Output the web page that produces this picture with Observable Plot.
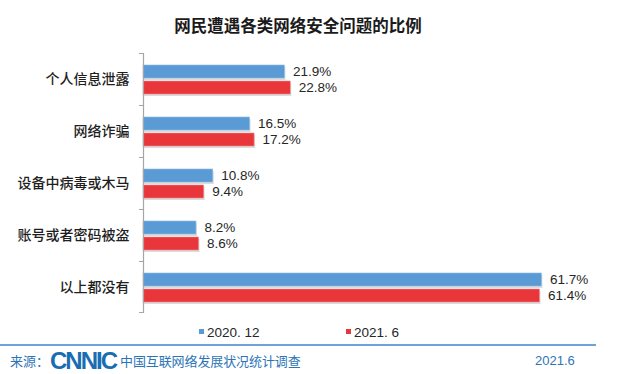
<!DOCTYPE html>
<html>
<head>
<meta charset="utf-8">
<script src="https://cdn.jsdelivr.net/npm/d3@7"></script>
<script src="https://cdn.jsdelivr.net/npm/@observablehq/plot@0.6"></script>
<style>
  body { margin: 0; background: #fff; }
  #wrap { position: relative; width: 640px; height: 374px; overflow: hidden; background: #fff;
          font-family: "Liberation Sans", "Noto Sans CJK SC", sans-serif; }
  #title { position: absolute; left: 0; top: 13px; width: 596px; text-align: center;
           font-family: "Noto Sans CJK SC", sans-serif; font-weight: bold; font-size: 16.5px;
           line-height: 24px; color: #1a1a1a; }
  #chart { position: absolute; left: 0; top: 45px; }
  #chart svg g[aria-label="y-axis tick label"] text { font-size: 14px; font-family: "Noto Sans CJK SC", sans-serif; font-weight: 500; }
  .leg { position: absolute; top: 324px; height: 18px; line-height: 18px; font-size: 13.5px; color: #262626; }
  .sw { display: inline-block; width: 5px; height: 5px; margin-right: 3px; vertical-align: 3px; }
  #rule { position: absolute; left: 0; top: 344px; width: 596px; height: 2px; background: #6fa3d8; }
  .foot { position: absolute; top: 351px; height: 20px; line-height: 20px; color: #2e75b6; font-size: 13px; }
  #logo { font-family: "Liberation Sans", sans-serif; font-weight: 900; font-size: 24px; color: #1a6db3;
          letter-spacing: -2px; top: 350px; height: 22px; line-height: 22px; }
</style>
</head>
<body>
<div id="wrap">
  <div id="title"></div>
  <div id="chart"></div>
  <div class="leg" id="leg0" style="left:199px"></div>
  <div class="leg" id="leg1" style="left:346px"></div>
  <div id="rule"></div>
  <div class="foot" style="left:10px; font-family:'Noto Sans CJK SC',sans-serif">来源：</div>
  <div class="foot" id="logo" style="left:50px">CNNIC</div>
  <div class="foot" style="left:120px; font-family:'Noto Sans CJK SC',sans-serif; letter-spacing:-0.1px">中国互联网络发展状况统计调查</div>
  <div class="foot" style="left:535px">2021.6</div>
</div>
<script>
const title = "网民遭遇各类网络安全问题的比例";
const categories = ["个人信息泄露", "网络诈骗", "设备中病毒或木马", "账号或者密码被盗", "以上都没有"];
const seriesNames = ["2020. 12", "2021. 6"];
const values2020 = [21.9, 16.5, 10.8, 8.2, 61.7];
const values2021 = [22.8, 17.2, 9.4, 8.6, 61.4];
const colors = ["#5b9bd5", "#e8363a"];

document.getElementById("title").textContent = title;
seriesNames.forEach((s, i) => {
  document.getElementById("leg" + i).innerHTML =
    `<span class="sw" style="background:${colors[i]}"></span>${s}`;
});

const rows = categories.map((c, i) => ({category: c, a: values2020[i], b: values2021[i]}));
const lastCat = [categories[categories.length - 1]];

const fmt = v => v.toFixed(1) + "%";

const chart = Plot.plot({
  width: 640,
  height: 275,
  marginTop: 8,
  marginBottom: 7,
  marginLeft: 143,
  marginRight: 45,
  style: {fontFamily: "'Liberation Sans', 'Noto Sans CJK SC', sans-serif", fontSize: "13px", color: "#333", background: "transparent"},
  x: {domain: [0, 70], axis: null},
  y: {domain: categories, padding: 0, label: null},
  marks: [
    // shadows
    Plot.barX(rows, {x: "a", y: "category", insetTop: 12, insetBottom: 27, fill: "#bfbfbf", fillOpacity: 0.55, dx: 1, dy: 2}),
    Plot.barX(rows, {x: "b", y: "category", insetTop: 28, insetBottom: 11, fill: "#bfbfbf", fillOpacity: 0.55, dx: 1, dy: 2}),
    // bars
    Plot.barX(rows, {x: "a", y: "category", insetTop: 12, insetBottom: 27, fill: colors[0], stroke: "#8dbbe6", strokeWidth: 0.6}),
    Plot.barX(rows, {x: "b", y: "category", insetTop: 28, insetBottom: 11, fill: colors[1], stroke: "#f08a8c", strokeWidth: 0.6}),
    // labels
    Plot.text(rows, {x: "a", y: "category", text: d => fmt(d.a), dx: 8, dy: -7.5, textAnchor: "start", fill: "#262626", fontSize: 13.5}),
    Plot.text(rows, {x: "b", y: "category", text: d => fmt(d.b), dx: 8, dy: 8.5, textAnchor: "start", fill: "#262626", fontSize: 13.5}),
    // axis line and band-edge ticks
    Plot.ruleX([0], {stroke: "#a6a6a6", strokeWidth: 1.2}),
    Plot.barX(categories, {x1: 0, x2: 0, y: d => d, insetLeft: -4, insetBottom: 51, fill: "#a6a6a6"}),
    Plot.barX(lastCat, {x1: 0, x2: 0, y: d => d, insetLeft: -4, insetTop: 51, fill: "#a6a6a6"}),
    Plot.axisY({tickSize: 0, tickPadding: 14, label: null, fill: "#1f1f1f"})
  ]
});
document.getElementById("chart").appendChild(chart);
</script>
</body>
</html>
